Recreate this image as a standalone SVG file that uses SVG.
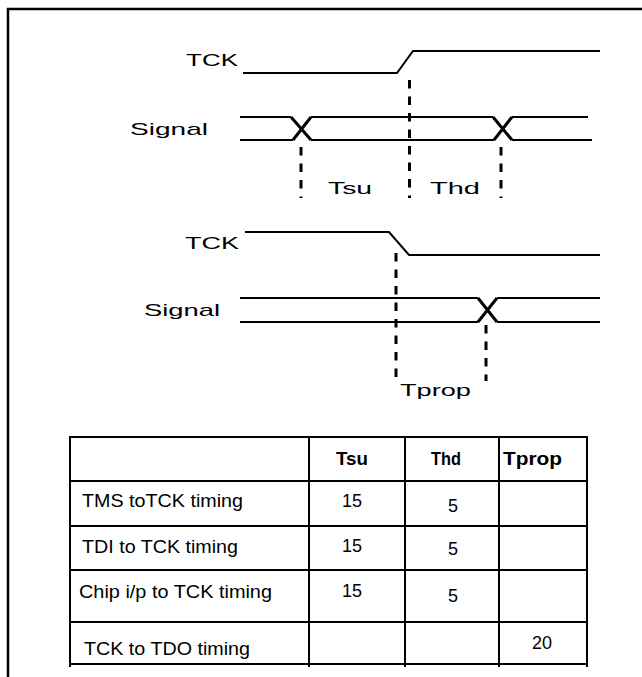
<svg xmlns="http://www.w3.org/2000/svg" width="642" height="677" viewBox="0 0 642 677">
<style>
.t{font-family:"Liberation Sans",Arial,sans-serif;font-size:17px;fill:#000}
.c{font-family:"Liberation Sans",Arial,sans-serif;font-size:18px;fill:#000}
.b{font-weight:bold}
.w{fill:none;stroke:#000;stroke-width:2}
.x{fill:none;stroke:#000;stroke-width:3}
.d{fill:none;stroke:#000;stroke-width:3;stroke-dasharray:8.5 8}
.g{fill:none;stroke:#000;stroke-width:2}
</style>
<rect x="0" y="0" width="642" height="677" fill="#fff"/>
<path d="M8,677 V9 H642" fill="none" stroke="#000" stroke-width="2.5"/>
<g id="labels">
<text class="t" x="186" y="66" textLength="52" lengthAdjust="spacingAndGlyphs">TCK</text>
<text class="t" x="130" y="135" textLength="78" lengthAdjust="spacingAndGlyphs">Signal</text>
<text class="t" x="328" y="194" textLength="44" lengthAdjust="spacingAndGlyphs">Tsu</text>
<text class="t" x="430" y="194" textLength="50" lengthAdjust="spacingAndGlyphs">Thd</text>
<text class="t" x="185" y="249" textLength="54" lengthAdjust="spacingAndGlyphs">TCK</text>
<text class="t" x="144" y="316" textLength="76" lengthAdjust="spacingAndGlyphs">Signal</text>
<text class="t" x="400" y="396" textLength="71" lengthAdjust="spacingAndGlyphs">Tprop</text>
</g>
<g id="waveforms">
<path class="w" d="M243,73 H397 L413,51 H600"/>
<path class="w" d="M240,117 H291 M311,117 H493 M512,117 H588"/>
<path class="w" d="M240,140 H293 M311,140 H494 M512,140 H592"/>
<path class="x" d="M291,117 L311,140 M293,140 L311,117 M493,117 L512,140 M494,140 L512,117"/>
<path class="w" d="M245,232 H389 L409,255 H600"/>
<path class="w" d="M240,298 H478 M497,298 H600"/>
<path class="w" d="M240,322 H478 M497,322 H600"/>
<path class="x" d="M478,298 L497,322 M478,322 L497,298"/>
</g>
<g id="connectors">
<path class="d" d="M301,147 V198"/>
<path class="d" d="M409.5,80 V198"/>
<path class="d" d="M501,147 V198"/>
<path class="d" d="M396,253 V381"/>
<path class="d" d="M486,325 V381"/>
</g>
<g id="table">
<path class="g" d="M70,667 V437 H587 V667 M70,481 H587 M70,526 H587 M70,570 H587 M70,622 H587 M70,664 H587 M309,437 V667 M405,437 V667 M499,437 V667"/>
<text class="c b" x="336" y="465" textLength="32" lengthAdjust="spacingAndGlyphs">Tsu</text>
<text class="c b" x="431" y="465" textLength="30" lengthAdjust="spacingAndGlyphs">Thd</text>
<text class="c b" x="503" y="465" textLength="59" lengthAdjust="spacingAndGlyphs">Tprop</text>
<text class="c" x="82" y="507" textLength="161" lengthAdjust="spacingAndGlyphs">TMS toTCK timing</text>
<text class="c" x="342" y="507">15</text>
<text class="c" x="448" y="512">5</text>
<text class="c" x="82" y="553" textLength="156" lengthAdjust="spacingAndGlyphs">TDI to TCK timing</text>
<text class="c" x="342" y="552">15</text>
<text class="c" x="448" y="555">5</text>
<text class="c" x="79" y="598" textLength="193" lengthAdjust="spacingAndGlyphs">Chip i/p to TCK timing</text>
<text class="c" x="342" y="597">15</text>
<text class="c" x="448" y="602">5</text>
<text class="c" x="84" y="655" textLength="166" lengthAdjust="spacingAndGlyphs">TCK to TDO timing</text>
<text class="c" x="532" y="649">20</text>
</g>
</svg>
